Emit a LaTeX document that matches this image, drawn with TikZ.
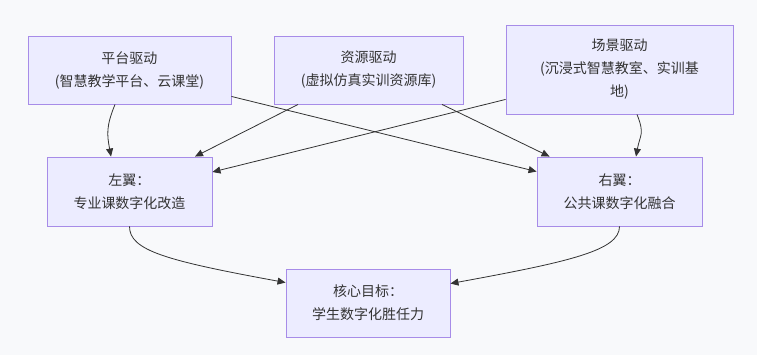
\documentclass[tikz,border=0pt]{standalone}
\usepackage{fontspec}
\setmainfont{Noto Sans CJK SC}
\usetikzlibrary{arrows.meta, calc}
\definecolor{bgc}{RGB}{248,249,251}
\definecolor{boxfill}{RGB}{236,236,255}
\definecolor{boxline}{RGB}{167,140,232}
\definecolor{ink}{RGB}{51,51,51}
\tikzset{
  blk/.style = {rectangle, draw=boxline, fill=boxfill, line width=0.9pt,
                align=center, text=ink, inner sep=0pt,
                font=\fontsize{14}{23}\selectfont},
  fl/.style  = {-{Triangle[length=8pt,width=7pt]}, draw=ink, line width=0.8pt},
}
\begin{document}
\begin{tikzpicture}[x=1pt, y=-1pt]
  \useasboundingbox (0,0) rectangle (764,355);
  \fill[white] (0,0) rectangle (764,355);
  \fill[bgc] (0,0) rectangle (757,355);

  \node[blk, minimum width=203pt, minimum height=68pt] (plat) at (129.5,70) {平台驱动\\(智慧教学平台、云课堂)};
  \node[blk, minimum width=189pt, minimum height=68pt] (res) at (368.5,70) {资源驱动\\(虚拟仿真实训资源库)};
  \node[blk, minimum width=227pt, minimum height=89pt] (scene) at (619.5,69.5) {场景驱动\\(沉浸式智慧教室、实训基\\地)};
  \node[blk, minimum width=165pt, minimum height=69pt] (left) at (129.5,191.5) {左翼：\\专业课数字化改造};
  \node[blk, minimum width=165pt, minimum height=69pt] (right) at (619.5,191.5) {右翼：\\公共课数字化融合};
  \node[blk, minimum width=164pt, minimum height=68pt] (goal) at (368,303) {核心目标：\\学生数字化胜任力};

  \draw[fl] ([xshift=-14.5pt]plat.south) .. controls +(-9,22) and +(-4,-22) .. ([xshift=-18.5pt]left.north);
  \draw[fl] ([yshift=8pt]plat.south east) -- ([yshift=-15pt]right.north west);
  \draw[fl] ([xshift=-70.5pt]res.south) -- ([xshift=65.5pt]left.north);
  \draw[fl] ([xshift=73.5pt]res.south) -- ([xshift=13pt]right.north west);
  \draw[fl] ([yshift=15pt]scene.south west) -- ([yshift=19.5pt]left.east);
  \draw[fl] ([xshift=17.5pt]scene.south) .. controls +(8,20) and +(4,-22) .. ([xshift=16.5pt]right.north);
  \draw[fl] (left.south) .. controls +(0,24) and +(-120,-22) .. ([yshift=-14pt]goal.north west);
  \draw[fl] (right.south) .. controls +(0,24) and +(120,-22) .. ([yshift=-15pt]goal.north east);
\end{tikzpicture}
\end{document}
